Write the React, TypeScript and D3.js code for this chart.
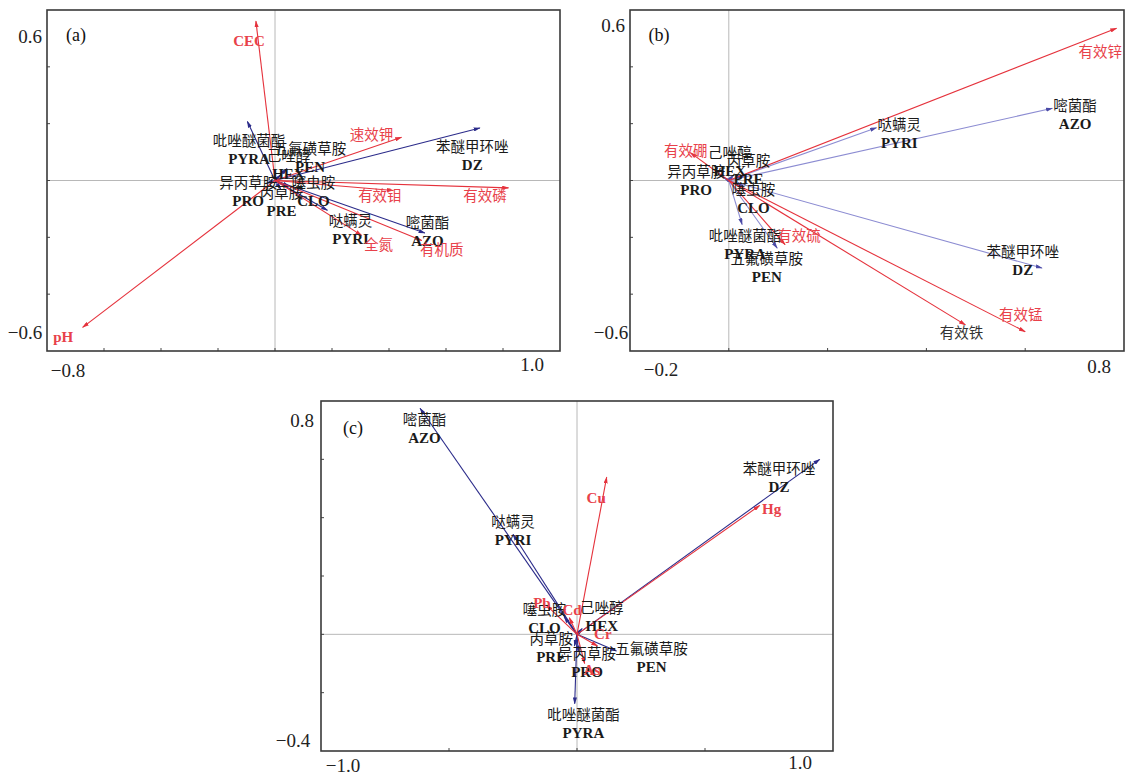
import React from "react";
import * as d3 from "d3";

// pesticide residues (shared by all three panels)
const speciesCodes = ["DZ", "AZO", "PYRI", "PYRA", "HEX", "PEN", "CLO", "PRE", "PRO"];
const speciesNames = ["苯醚甲环唑", "嘧菌酯", "哒螨灵", "吡唑醚菌酯", "己唑醇", "五氟磺草胺", "噻虫胺", "丙草胺", "异丙草胺"];

// (a) soil properties
const aSpeciesX = [0.719, 0.526, 0.184, -0.097, 0.02, 0.042, 0.05, 0.02, -0.03];
const aSpeciesY = [0.185, -0.185, -0.105, 0.208, 0.02, 0.042, -0.02, -0.03, -0.01];
const aEnvNames = ["CEC", "pH", "速效钾", "有效磷", "有效钼", "有机质", "全氮"];
const aEnvX = [-0.067, -0.675, 0.444, 0.819, 0.415, 0.515, 0.304];
const aEnvY = [0.561, -0.517, 0.152, -0.026, -0.035, -0.211, -0.193];

// (b) trace nutrients
const bSpeciesX = [0.634, 0.655, 0.299, 0.027, 0.01, 0.098, 0.03, 0.03, -0.01];
const bSpeciesY = [-0.308, 0.254, 0.186, -0.155, 0.02, -0.238, -0.02, 0.015, 0.01];
const bEnvNames = ["有效锌", "有效硼", "有效硫", "有效锰", "有效铁"];
const bEnvX = [0.785, -0.078, 0.114, 0.6, 0.479];
const bEnvY = [0.536, 0.098, -0.226, -0.532, -0.508];

// (c) heavy metals
const cSpeciesX = [0.948, -0.613, -0.25, -0.009, 0.02, 0.154, -0.05, -0.01, 0.005];
const cSpeciesY = [0.6, 0.775, 0.343, -0.238, 0.02, -0.057, 0.06, -0.04, -0.06];
const cEnvNames = ["Cu", "Hg", "Pb", "Cd", "Cr", "As"];
const cEnvX = [0.116, 0.714, -0.12, -0.03, 0.08, 0.03];
const cEnvY = [0.539, 0.442, 0.1, 0.057, -0.04, -0.1];

// axis labels
const aTickText = ["−0.8", "1.0", "0.6", "−0.6"];
const bTickText = ["−0.2", "0.8", "0.6", "−0.6"];
const cTickText = ["−1.0", "1.0", "0.8", "−0.4"];

// where the labels sit (data units), layout only
const aSpeciesLabelAt = [[0.692, 0.119], [0.535, -0.15], [0.265, -0.143], [-0.091, 0.14], [0.047, 0.085], [0.123, 0.111], [0.135, -0.009], [0.023, -0.044], [-0.094, -0.009]];
const aEnvLabelAt = [[-0.091, 0.491], [-0.743, -0.55], [0.339, 0.161], [0.737, -0.056], [0.368, -0.056], [0.585, -0.243], [0.363, -0.226]];
const bSpeciesLabelAt = [[0.595, -0.253], [0.701, 0.262], [0.345, 0.194], [0.033, -0.194], [0.002, 0.098], [0.077, -0.276], [0.05, -0.032], [0.04, 0.068], [-0.066, 0.031]];
const bEnvLabelAt = [[0.752, 0.453], [-0.087, 0.104], [0.142, -0.194], [0.591, -0.473], [0.471, -0.538]];
const cSpeciesLabelAt = [[0.789, 0.568], [-0.596, 0.736], [-0.25, 0.385], [0.025, -0.278], [0.097, 0.09], [0.291, -0.049], [-0.127, 0.082], [-0.101, -0.015], [0.039, -0.066]];
const cEnvLabelAt = [[0.075, 0.469], [0.76, 0.429], [-0.137, 0.107], [-0.019, 0.082], [0.101, 0.0], [0.058, -0.123]];

const RED = "#e5323c";
const RED_TXT = "#e8414a";
const NAVY = "#2b2b8a";
const LAV = "#8c8cd2";
const SERIF = "'Liberation Serif', 'Times New Roman', 'Noto Sans CJK SC', serif";

const panels = [
  {
    tag: "(a)", left: 47, right: 560, top: 10, bottom: 351,
    xDomain: [-0.8, 1.0], yDomain: [-0.6, 0.6], xStep: 0.2, yStep: 0.2,
    sx: aSpeciesX, sy: aSpeciesY, sLab: aSpeciesLabelAt,
    eNames: aEnvNames, ex: aEnvX, ey: aEnvY, eLab: aEnvLabelAt,
    ticks: aTickText, tickPos: [[68, 370], [532, 364], [30, 36], [25, 332]],
    tagPos: [76, 35], line: NAVY, head: "navy",
  },
  {
    tag: "(b)", left: 630, right: 1124, top: 10, bottom: 351,
    xDomain: [-0.2, 0.8], yDomain: [-0.6, 0.6], xStep: 0.2, yStep: 0.2,
    sx: bSpeciesX, sy: bSpeciesY, sLab: bSpeciesLabelAt,
    eNames: bEnvNames, ex: bEnvX, ey: bEnvY, eLab: bEnvLabelAt,
    ticks: bTickText, tickPos: [[661, 369], [1099, 366], [613, 25], [611, 332]],
    tagPos: [659, 35], line: LAV, head: "lav",
  },
  {
    tag: "(c)", left: 321, right: 833, top: 401, bottom: 751,
    xDomain: [-1.0, 1.0], yDomain: [-0.4, 0.8], xStep: 0.5, yStep: 0.2,
    sx: cSpeciesX, sy: cSpeciesY, sLab: cSpeciesLabelAt,
    eNames: cEnvNames, ex: cEnvX, ey: cEnvY, eLab: cEnvLabelAt,
    ticks: cTickText, tickPos: [[343, 765], [800, 762], [302, 420], [293, 740]],
    tagPos: [353, 428], line: NAVY, head: "navy",
  },
];

const isLatin = (s: string) => /^[A-Za-z]+$/.test(s);

function Panel({ p }: { p: any }) {
  const x = d3.scaleLinear().domain(p.xDomain).range([p.left, p.right]);
  const y = d3.scaleLinear().domain(p.yDomain).range([p.bottom, p.top]);
  const nx = Math.round((p.xDomain[1] - p.xDomain[0]) / p.xStep);
  const ny = Math.round((p.yDomain[1] - p.yDomain[0]) / p.yStep);
  const xt = d3.range(1, nx).map((i) => p.xDomain[0] + i * p.xStep);
  const yt = d3.range(1, ny).map((i) => p.yDomain[0] + i * p.yStep);

  return (
    <g>
      <line x1={x(0)} x2={x(0)} y1={p.top} y2={p.bottom} stroke="#b8b8b8" strokeWidth={1} />
      <line x1={p.left} x2={p.right} y1={y(0)} y2={y(0)} stroke="#b8b8b8" strokeWidth={1} />
      {xt.map((v: number, i: number) => (
        <line key={"xt" + i} x1={x(v)} x2={x(v)} y1={p.bottom} y2={p.bottom - 3} stroke="#444" />
      ))}
      {yt.map((v: number, i: number) => (
        <line key={"yt" + i} x1={p.left} x2={p.left + 3} y1={y(v)} y2={y(v)} stroke="#444" />
      ))}
      <rect x={p.left} y={p.top} width={p.right - p.left} height={p.bottom - p.top}
        fill="none" stroke="#3a3a3a" strokeWidth={1.6} />

      {speciesCodes.map((c, i) => (
        <line key={"sa" + c} x1={x(0)} y1={y(0)} x2={x(p.sx[i])} y2={y(p.sy[i])}
          stroke={p.line} strokeWidth={1.1} markerEnd={`url(#arr-${p.head})`} />
      ))}
      {p.eNames.map((n: string, i: number) => (
        <line key={"ea" + n} x1={x(0)} y1={y(0)} x2={x(p.ex[i])} y2={y(p.ey[i])}
          stroke={RED} strokeWidth={1.1} markerEnd="url(#arr-red)" />
      ))}

      {speciesCodes.map((c, i) => {
        const [lx, ly] = p.sLab[i];
        return (
          <g key={"sl" + c} fontFamily={SERIF} fontSize={14.5} textAnchor="middle" fill="#1a1a1a">
            <text x={x(lx)} y={y(ly)} dominantBaseline="central">{speciesNames[i]}</text>
            <text x={x(lx)} y={y(ly) + 18} dominantBaseline="central" fontWeight="bold" fontSize={15}>{c}</text>
          </g>
        );
      })}
      {p.eNames.map((n: string, i: number) => {
        const [lx, ly] = p.eLab[i];
        return (
          <text key={"el" + n} x={x(lx)} y={y(ly)} dominantBaseline="central" textAnchor="middle"
            fontFamily={SERIF} fontSize={isLatin(n) ? 15 : 14.5} fontWeight={isLatin(n) ? "bold" : "normal"}
            fill={n === "有效铁" ? "#333" : RED_TXT}>{n}</text>
        );
      })}

      {p.ticks.map((t: string, i: number) => (
        <text key={"tk" + i} x={p.tickPos[i][0]} y={p.tickPos[i][1]} dominantBaseline="central"
          textAnchor="middle" fontFamily={SERIF} fontSize={19} fill="#222">{t}</text>
      ))}
      <text x={p.tagPos[0]} y={p.tagPos[1]} dominantBaseline="central" textAnchor="middle"
        fontFamily={SERIF} fontSize={18} fill="#111">{p.tag}</text>
    </g>
  );
}

export default function App() {
  return (
    <svg width={1129} height={777} style={{ position: "absolute", left: 0, top: 0, background: "#fff" }}>
      <defs>
        {[["red", RED], ["navy", NAVY], ["lav", "#4a4aa6"]].map(([id, col]) => (
          <marker key={id} id={`arr-${id}`} viewBox="0 0 10 6" refX={9} refY={3}
            markerWidth={7} markerHeight={4.2} markerUnits="userSpaceOnUse" orient="auto">
            <path d="M0,0 L10,3 L0,6 z" fill={col} />
          </marker>
        ))}
      </defs>
      {panels.map((p) => <Panel key={p.tag} p={p} />)}
    </svg>
  );
}
